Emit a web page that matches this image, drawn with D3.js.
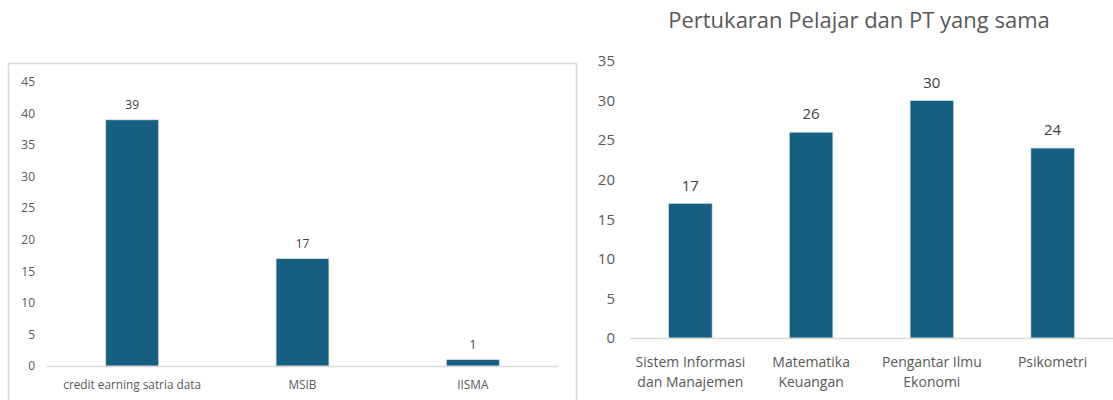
<!DOCTYPE html>
<html>
<head>
<meta charset="utf-8">
<script src="https://cdn.jsdelivr.net/npm/d3@7"></script>
<style>
  html, body { margin: 0; padding: 0; background: #fff; }
  svg { display: block; font-family: "Open Sans", "Noto Sans", sans-serif; }
</style>
</head>
<body>
<svg id="chart" width="1113" height="400"></svg>
<script>
// ---- data ----
const leftCategories = ["credit earning satria data", "MSIB", "IISMA"];
const leftValues = [39, 17, 1];
const leftTicks = [0, 5, 10, 15, 20, 25, 30, 35, 40, 45];

const rightTitle = "Pertukaran Pelajar dan PT yang sama";
const rightCategories = [["Sistem Informasi", "dan Manajemen"], ["Matematika", "Keuangan"], ["Pengantar Ilmu", "Ekonomi"], ["Psikometri"]];
const rightValues = [17, 26, 30, 24];
const rightTicks = [0, 5, 10, 15, 20, 25, 30, 35];

const barColor = "#175f81";
const textColor = "#595959";
const svg = d3.select("#chart");

// ---- left chart ----
svg.append("rect")
  .attr("x", 8.5).attr("y", 63.5).attr("width", 568).attr("height", 345)
  .attr("fill", "#fff").attr("stroke", "#d9d9d9").attr("stroke-width", 1.5);

const lx = d3.scaleBand().domain(leftCategories).range([47, 558]).paddingInner(0.69).paddingOuter(0.345);
const ly = d3.scaleLinear().domain([0, 45]).range([366, 82]);

const lg = svg.append("g");
lg.selectAll(".ytick").data(leftTicks).join("text")
  .attr("x", 35).attr("y", d => ly(d)).attr("dy", "0.35em")
  .attr("text-anchor", "end").attr("fill", textColor).attr("font-size", 12)
  .text(d => d);
lg.selectAll(".bar").data(leftValues).join("rect")
  .attr("x", (d, i) => lx(leftCategories[i])).attr("width", lx.bandwidth())
  .attr("y", d => ly(d)).attr("height", d => ly(0) - ly(d))
  .attr("fill", barColor).attr("stroke", "#cfe0ea").attr("stroke-width", 0.6);
lg.append("line").attr("x1", 47).attr("x2", 558).attr("y1", ly(0) + 0.5).attr("y2", ly(0) + 0.5)
  .attr("stroke", "#d9d9d9").attr("stroke-width", 1.5);
lg.selectAll(".lbl").data(leftValues).join("text")
  .attr("x", (d, i) => lx(leftCategories[i]) + lx.bandwidth() / 2).attr("y", d => ly(d) - 15)
  .attr("dy", "0.35em").attr("text-anchor", "middle").attr("fill", "#404040").attr("font-size", 12)
  .text(d => d);
lg.selectAll(".cat").data(leftCategories).join("text")
  .attr("x", d => lx(d) + lx.bandwidth() / 2).attr("y", 385).attr("dy", "0.35em")
  .attr("text-anchor", "middle").attr("fill", textColor).attr("font-size", 11.8)
  .text(d => d);

// ---- right chart ----
const rKeys = rightCategories.map(d => d.join(" "));
const rx = d3.scaleBand().domain(rKeys).range([630, 1113]).paddingInner(0.64).paddingOuter(0.32);
const ry = d3.scaleLinear().domain([0, 35]).range([338, 61]);
const rg = svg.append("g");

rg.append("text").attr("x", 859).attr("y", 20).attr("dy", "0.35em").attr("text-anchor", "middle")
  .attr("fill", textColor).attr("font-size", 22).text(rightTitle);
rg.selectAll(".ytick").data(rightTicks).join("text")
  .attr("x", 615).attr("y", d => ry(d)).attr("dy", "0.35em")
  .attr("text-anchor", "end").attr("fill", textColor).attr("font-size", 15)
  .text(d => d);
rg.selectAll(".bar").data(rightValues).join("rect")
  .attr("x", (d, i) => rx(rKeys[i])).attr("width", rx.bandwidth())
  .attr("y", d => ry(d)).attr("height", d => ry(0) - ry(d))
  .attr("fill", barColor).attr("stroke", "#cfe0ea").attr("stroke-width", 0.6);
rg.append("line").attr("x1", 630).attr("x2", 1113).attr("y1", ry(0) + 0.5).attr("y2", ry(0) + 0.5)
  .attr("stroke", "#d9d9d9").attr("stroke-width", 1.5);
rg.selectAll(".lbl").data(rightValues).join("text")
  .attr("x", (d, i) => rx(rKeys[i]) + rx.bandwidth() / 2).attr("y", d => ry(d) - 18)
  .attr("dy", "0.35em").attr("text-anchor", "middle").attr("fill", "#404040").attr("font-size", 15)
  .text(d => d);
rightCategories.forEach((lines, i) => {
  const t = rg.append("text").attr("text-anchor", "middle").attr("fill", textColor).attr("font-size", 14);
  lines.forEach((ln, j) => {
    t.append("tspan").attr("x", rx(rKeys[i]) + rx.bandwidth() / 2).attr("y", 362 + j * 20).attr("dy", "0.35em").text(ln);
  });
});
</script>
</body>
</html>
